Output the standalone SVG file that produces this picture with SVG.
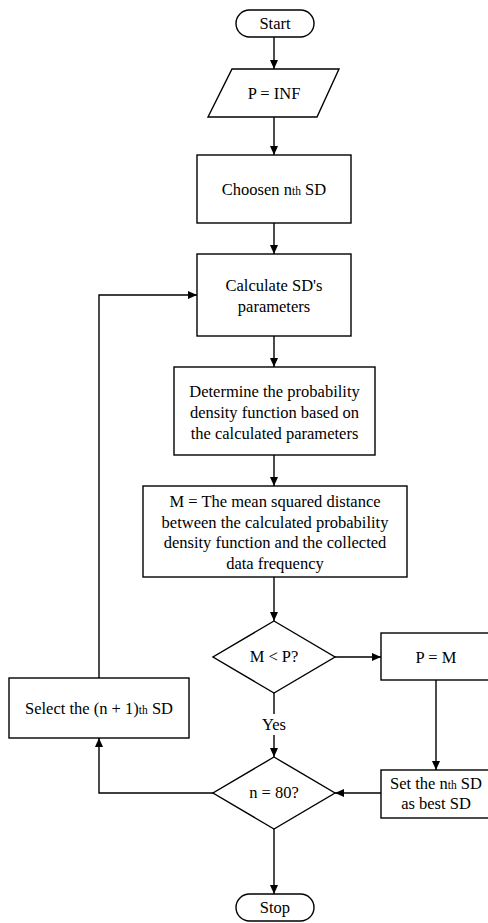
<svg xmlns="http://www.w3.org/2000/svg" width="488" height="923" viewBox="0 0 488 923" font-family="'Liberation Serif', 'Times New Roman', Times, serif">
<style>
.s{fill:#fff;stroke:#000;stroke-width:1.4}
.c{fill:none;stroke:#000;stroke-width:1.4}
text{font-family:'Liberation Serif', 'Times New Roman', Times, serif;font-size:16.5px;fill:#000;text-anchor:middle}
.sub{font-size:11.5px}
</style>
<defs>
<marker id="ah" markerUnits="userSpaceOnUse" markerWidth="10" markerHeight="9" refX="9" refY="4" orient="auto">
<path d="M0,0 L9,4 L0,8 z" fill="#000"/>
</marker>
</defs>
<rect width="488" height="923" fill="#fff"/>
<g id="connectors">
<line class="c" x1="274" y1="37" x2="274" y2="69" marker-end="url(#ah)"/>
<line class="c" x1="274" y1="117" x2="274" y2="155" marker-end="url(#ah)"/>
<line class="c" x1="274" y1="223" x2="274" y2="254" marker-end="url(#ah)"/>
<line class="c" x1="274" y1="336" x2="274" y2="367" marker-end="url(#ah)"/>
<line class="c" x1="274" y1="455" x2="274" y2="486" marker-end="url(#ah)"/>
<line class="c" x1="274" y1="577" x2="274" y2="621" marker-end="url(#ah)"/>
<line class="c" x1="335" y1="657" x2="381" y2="657" marker-end="url(#ah)"/>
<line class="c" x1="274" y1="693" x2="274" y2="714"/>
<line class="c" x1="274" y1="735" x2="274" y2="757" marker-end="url(#ah)"/>
<line class="c" x1="436" y1="680" x2="436" y2="770" marker-end="url(#ah)"/>
<line class="c" x1="381" y1="793" x2="335" y2="793" marker-end="url(#ah)"/>
<line class="c" x1="274" y1="829" x2="274" y2="894" marker-end="url(#ah)"/>
<polyline class="c" points="213,793 99,793 99,738" marker-end="url(#ah)"/>
<polyline class="c" points="99,678 99,295 197,295" marker-end="url(#ah)"/>
<text x="274" y="730">Yes</text>
</g>
<g id="start">
<rect class="s" x="236" y="10" width="78" height="27" rx="13.5"/>
<text x="275" y="29">Start</text>
</g>
<g id="p-inf">
<polygon class="s" points="232,69 339,69 317,117 208,117"/>
<text x="274" y="99">P = INF</text>
</g>
<g id="choosen">
<rect class="s" x="197" y="155" width="154" height="68"/>
<text x="274" y="195">Choosen n<tspan class="sub">th</tspan> SD</text>
</g>
<g id="calculate">
<rect class="s" x="197" y="254" width="154" height="82"/>
<text x="274" y="290.5">Calculate SD's</text>
<text x="274" y="311.5">parameters</text>
</g>
<g id="determine">
<rect class="s" x="174" y="367" width="201" height="88"/>
<text x="274.5" y="397">Determine the probability</text>
<text x="274.5" y="418">density function based on</text>
<text x="274.5" y="438.5">the calculated parameters</text>
</g>
<g id="msd">
<rect class="s" x="143" y="486" width="264" height="91"/>
<text x="275" y="507">M = The mean squared distance</text>
<text x="275" y="527.5">between the calculated probability</text>
<text x="275" y="548">density function and the collected</text>
<text x="275" y="568.5">data frequency</text>
</g>
<g id="dec-mp">
<polygon class="s" points="274,621 335,657 274,693 213,657"/>
<text x="274" y="662">M &lt; P?</text>
</g>
<g id="p-m">
<rect class="s" x="381" y="633" width="110" height="47"/>
<text x="436" y="663">P = M</text>
</g>
<g id="set-best">
<rect class="s" x="381" y="770" width="110" height="48"/>
<text x="436" y="788.5">Set the n<tspan class="sub">th</tspan> SD</text>
<text x="436" y="809">as best SD</text>
</g>
<g id="dec-n80">
<polygon class="s" points="274,757 335,793 274,829 213,793"/>
<text x="274" y="798">n = 80?</text>
</g>
<g id="select">
<rect class="s" x="9" y="678" width="180" height="60"/>
<text x="99" y="714">Select the (n + 1)<tspan class="sub">th</tspan> SD</text>
</g>
<g id="stop">
<rect class="s" x="236" y="894" width="78" height="27" rx="13.5"/>
<text x="275" y="913">Stop</text>
</g>
</svg>
